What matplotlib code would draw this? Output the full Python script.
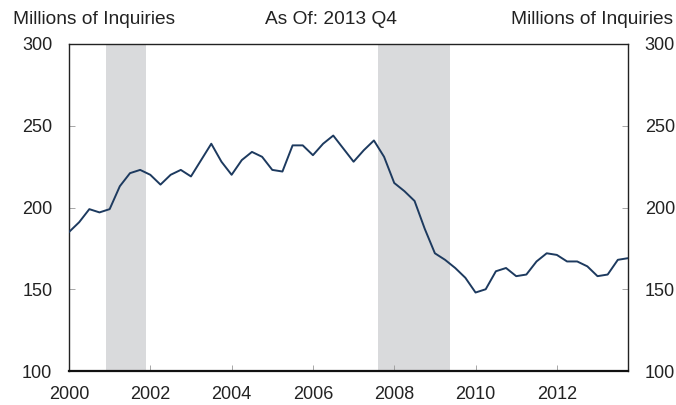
import numpy as np
import matplotlib.pyplot as plt

plt.rcParams['font.family'] = ['Liberation Sans', 'DejaVu Sans']

# quarterly credit inquiries, 2000 Q1 - 2013 Q4 (millions)
inquiries = [185, 191, 199, 197,
             199, 213, 221, 223,
             220, 214, 220, 223,
             219, 229, 239, 228,
             220, 229, 234, 231,
             223, 222, 238, 238,
             232, 239, 244, 236,
             228, 235, 241, 231,
             215, 210, 204, 187,
             172, 168, 163, 157,
             148, 150, 161, 163,
             158, 159, 167, 172,
             171, 167, 167, 164,
             158, 159, 168, 169]
quarters = 2000 + np.arange(len(inquiries)) / 4.0

recessions = [(2000.9, 2001.9), (2007.6, 2009.38)]
year_ticks = [2000, 2002, 2004, 2006, 2008, 2010, 2012]
y_ticks = [100, 150, 200, 250, 300]

fig = plt.figure(figsize=(6.76, 4.05), dpi=100)
ax = fig.add_axes([69 / 676, 1 - 371 / 405, (628 - 69) / 676, (371 - 44) / 405])

for start, end in recessions:
    ax.axvspan(start, end, color='#d9dadc', lw=0, zorder=0)

ax.plot(quarters, inquiries, color='#1d3a5f', lw=1.4, zorder=3)

ax.set_xlim(2000, 2013.75)
ax.set_ylim(100, 300)
ax.set_xticks(year_ticks)
ax.set_xticklabels([str(y) for y in year_ticks])
ax.set_yticks(y_ticks)

for side in ['left', 'top', 'right']:
    ax.spines[side].set_linewidth(1.0)
    ax.spines[side].set_color('#222222')
ax.spines['bottom'].set_linewidth(1.6)
ax.spines['bottom'].set_color('#111111')

ax.tick_params(axis='y', direction='in', left=True, right=True,
               labelleft=True, labelright=True, length=4, width=0.6,
               color='#999999', labelsize=13, pad=12, labelcolor='#222222')
ax.tick_params(axis='x', direction='in', length=4, width=0.6,
               color='#999999', labelsize=13, pad=11, labelcolor='#222222')
# hide the tick on the left edge of x axis
ax.xaxis.get_major_ticks()[0].tick1line.set_visible(False)

fig.text(13 / 676, 1 - 20 / 405, 'Millions of Inquiries', fontsize=13.8,
         ha='left', va='center', color='#222222')
fig.text(331 / 676, 1 - 20 / 405, 'As Of: 2013 Q4', fontsize=13.8,
         ha='center', va='center', color='#222222')
fig.text(673 / 676, 1 - 20 / 405, 'Millions of Inquiries', fontsize=13.8,
         ha='right', va='center', color='#222222')

fig.savefig('out.png', dpi=100)
